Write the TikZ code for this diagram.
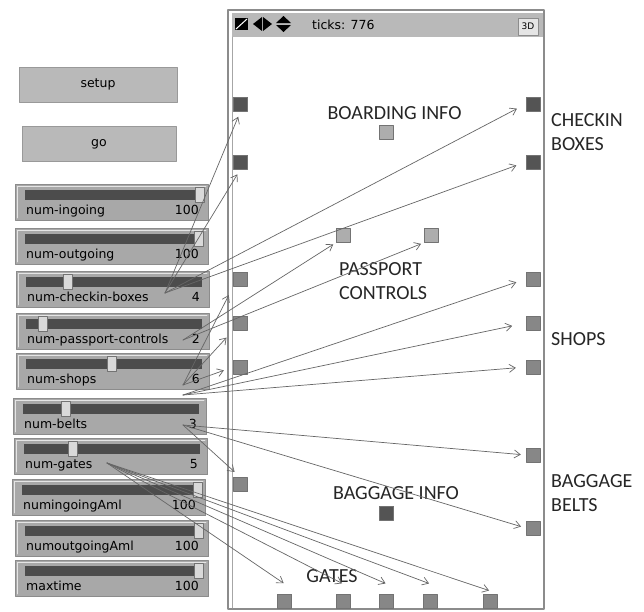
\documentclass[tikz,border=0pt]{standalone}
\usepackage{fontspec}
\setmainfont{DejaVu Sans}
\newfontfamily\lblfont{Carlito}
\usetikzlibrary{arrows.meta}
\tikzset{
  btn/.style={draw=black!40, fill=gray!55, line width=1pt, minimum height=35pt, inner sep=0pt},
  slider/.style={anchor=north west, draw=black!45, fill=gray!68, line width=1pt, minimum width=193pt, minimum height=36pt, inner sep=0pt},
  sq/.style={minimum size=14pt, inner sep=0pt, draw=black!55, line width=.4pt},
  dk/.style={sq, fill=black!67},
  md/.style={sq, fill=black!47},
  lt/.style={sq, fill=black!32},
  lbl/.style={font=\lblfont\fontsize{20}{24.5}\selectfont, text=black!85, inner sep=0pt, align=left},
  arr/.style={-{Straight Barb[length=6pt,width=8pt]}, draw=black!60, line width=.7pt},
}
\begin{document}
\begin{tikzpicture}[x=1pt, y=-1pt, font=\fontsize{12.5}{14}\selectfont, line join=round, line cap=round]
\useasboundingbox[fill=white] (0,0) rectangle (644,611);
% buttons
\node[btn, minimum width=158pt] (bSetup) at (98,84.5) {setup};
\node[btn, minimum width=154pt] (bGo) at (99,144) {go};
% sliders
\foreach \nm/\lab/\val/\hx/\py/\px in {ing/num-ingoing/100/200/184/15, out/num-outgoing/100/199/228/15,
    ck/num-checkin-boxes/4/68/271/16, pp/num-passport-controls/2/43/313/16, sh/num-shops/6/112/353/16,
    bl/num-belts/3/66/398/13, gt/num-gates/5/73/438/14, ina/numingoingAml/100/198/479/12,
    outa/numoutgoingAml/100/199/520/15, mt/maxtime/100/199/560/15}{
  \node[slider] (s-\nm) at (\px,\py) {};
  \draw[white!80!gray, line width=.8pt] ({\px+2},{\py+34}) -- ({\px+2},{\py+2}) -- ({\px+191},{\py+2});
  \fill[black!70] ({\px+10},{\py+6}) rectangle ({\px+186},{\py+16});
  \draw[black!55, fill=gray!30, line width=.5pt] ({\hx-4.5},{\py+3}) rectangle ({\hx+4.5},{\py+18});
  \node[anchor=base west, inner sep=0pt] (s-\nm-l) at ({\px+11},{\py+30}) {\lab};
  \node[anchor=base east, inner sep=0pt] (s-\nm-v) at ({\px+184},{\py+30}) {\val};
}
% world view
\draw[black!45, line width=1.2pt] (228,10) rectangle (544,609);
\fill[gray!55] (232,13) rectangle (543,37);
\draw[black!35, line width=.8pt] (232,37) -- (232,608);
\fill (235,18) rectangle (248,30);
\draw[white, line width=1pt] (236,29) -- (247,19);
\fill (253,24) -- (262,17) -- (262,31) -- cycle;
\fill (263,17) -- (272,24) -- (263,31) -- cycle;
\fill (276,23) -- (283.5,16) -- (291,23) -- cycle;
\fill (276,25) -- (283.5,32) -- (291,25) -- cycle;
\node[anchor=west, inner sep=0pt] (ticks) at (312,25) {ticks: 776};
\node[draw=black!45, fill=gray!20, minimum width=20pt, minimum height=17pt, inner sep=0pt, font=\fontsize{9}{10}\selectfont] (b3d) at (528,26.5) {3D};
% patches
\node[dk] (ckL1) at (240.5,104) {};
\node[dk] (ckL2) at (240.5,162) {};
\node[dk] (ckR1) at (533,104) {};
\node[dk] (ckR2) at (533,162) {};
\node[lt] (board) at (386.5,132.5) {};
\node[lt] (ppA) at (343,235.5) {};
\node[lt] (ppB) at (431,235.5) {};
\node[md] (shL1) at (240.5,279) {};
\node[md] (shL2) at (240.5,323) {};
\node[md] (shL3) at (240.5,367) {};
\node[md] (shR1) at (533,279) {};
\node[md] (shR2) at (533,323) {};
\node[md] (shR3) at (533,367) {};
\node[md] (blL) at (240.5,484.5) {};
\node[md] (blR1) at (533,455) {};
\node[md] (blR2) at (533,528) {};
\node[dk] (bagInfo) at (386.5,513) {};
\node[md] (g1) at (284.5,601) {};
\node[md] (g2) at (343,601) {};
\node[md] (g3) at (386.5,601) {};
\node[md] (g4) at (430,601) {};
\node[md] (g5) at (490,601) {};
% labels
\node[lbl] (tBoard) at (394.5,113.5) {BOARDING INFO};
\node[lbl, anchor=north west] (tCheck) at (551,113) {CHECKIN\\BOXES};
\node[lbl, anchor=north west] (tPass) at (339,262) {PASSPORT\\CONTROLS};
\node[lbl, anchor=west] (tShops) at (551,339.5) {SHOPS};
\node[lbl] (tBagInfo) at (396,493.5) {BAGGAGE INFO};
\node[lbl, anchor=north west] (tBelts) at (551,474) {BAGGAGE\\BELTS};
\node[lbl] (tGates) at (332,576.5) {GATES};
% arrows
\coordinate (oCk) at (165,293);
\coordinate (oPp) at (183,340);
\coordinate (oShL) at (183,385);
\coordinate (oShR) at (183,395);
\coordinate (oBl) at (183,425);
\coordinate (oGt) at (107,463);
\draw[arr, shorten >=6pt] (oCk) -- (ckL1.south);
\draw[arr, shorten >=6pt] (oCk) -- (ckL2.south);
\draw[arr, shorten >=10pt] (oCk) -- (ckR1.west);
\draw[arr, shorten >=10pt] (oCk) -- (ckR2.west);
\draw[arr, shorten >=3pt] (oPp) -- (ppA.south west);
\draw[arr, shorten >=3pt] (oPp) -- (ppB.south west);
\draw[arr, shorten >=10pt] (oShL) -- (shL1.south west);
\draw[arr, shorten >=10pt] (oShL) -- (shL2.south west);
\draw[arr, shorten >=10pt] (oShL) -- (shL3.west);
\draw[arr, shorten >=10pt] (oShR) -- (shR1.west);
\draw[arr, shorten >=14pt] (oShR) -- (shR2.west);
\draw[arr, shorten >=10pt] (oShR) -- (shR3.west);
\draw[arr, shorten >=8pt] (oBl) -- (blL.north);
\draw[arr, shorten >=5pt] (oBl) -- (blR1.west);
\draw[arr, shorten >=5pt] (oBl) -- (blR2.west);
\draw[arr, shorten >=1pt] (oGt) -- ([yshift=10pt]g1.north);
\draw[arr, shorten >=1pt] (oGt) -- ([yshift=10pt]g2.north);
\draw[arr, shorten >=1pt] (oGt) -- ([yshift=10pt]g3.north);
\draw[arr, shorten >=1pt] (oGt) -- ([yshift=10pt]g4.north);
\draw[arr, shorten >=1pt] (oGt) -- ([yshift=3pt]g5.north);
\end{tikzpicture}
\end{document}
